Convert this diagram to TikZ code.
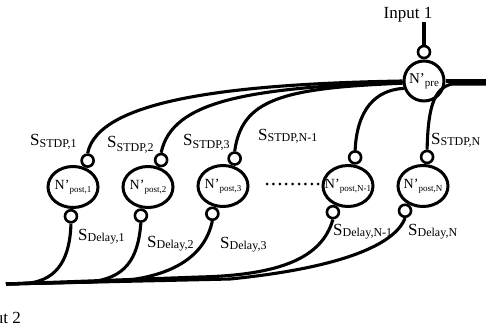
\documentclass[tikz,border=0pt]{standalone}
\usepackage{fontspec}
\setmainfont{Liberation Serif}
\usetikzlibrary{shapes.geometric}

% synapse label: S with a lowered subscript
\newcommand\synlbl[2][1.5pt]{S\raisebox{-#1}{\fontsize{12}{12}\selectfont #2}}
% neuron label: N' with a lowered subscript, zero width so the shape keeps its size
\newcommand\nrnlbl[2]{\makebox[0pt][c]{N’\raisebox{-3pt}{\fontsize{#1}{#1}\selectfont #2}}}

\begin{document}
\begin{tikzpicture}[x=1pt, y=-1pt,
  neuron/.style={draw, ellipse, line width=3pt, minimum width=50pt, minimum height=41pt,
                 inner sep=0pt, fill=white, font=\fontsize{14}{14}\selectfont},
  prenrn/.style={draw, circle, line width=3pt, minimum size=40pt, inner sep=0pt,
                 fill=white, font=\fontsize{15}{15}\selectfont},
  syn/.style={draw, circle, line width=2.6pt, minimum size=12pt, inner sep=0pt, fill=white},
  wire/.style={line width=3.1pt},
  lbl/.style={inner sep=0pt, anchor=base west, font=\fontsize{17}{17}\selectfont},
  dots/.style={line width=3pt, line cap=round, dash pattern=on 0pt off 6.4pt}]

\useasboundingbox (0,0) rectangle (486,331);
\clip (0,0) rectangle (486,331);
\fill[white] (0,0) rectangle (486,331);

% presynaptic neuron and its input synapse
\node[prenrn] (Npre) at (424,81) {\nrnlbl{11}{pre}};
\node[syn] (IN) at (424,52) {};
\node[lbl, anchor=base] (in1) at (408,19) {Input 1};
\coordinate (inTop) at (424,22);
\draw[line width=3.6pt] (inTop) -- (IN.north);

% postsynaptic neurons
\node[neuron] (P1)  at (73,187)  {\nrnlbl{9}{post,1}};
\node[neuron] (P2)  at (148,187) {\nrnlbl{9}{post,2}};
\node[neuron] (P3)  at (223,186) {\nrnlbl{9}{post,3}};
\node[neuron] (PNm) at (348,186) {\nrnlbl{9}{post,N-1}};
\node[neuron] (PN)  at (423,186) {\nrnlbl{9}{post,N}};

% STDP synapses (top) and delay synapses (bottom)
\node[syn, anchor=241] (T1)  at (P1.61)  {};
\node[syn, anchor=244] (T2)  at (P2.64)  {};
\node[syn, anchor=247] (T3)  at (P3.67)  {};
\node[syn, anchor=256] (TNm) at (PNm.76) {};
\node[syn, anchor=262] (TN)  at (PN.82)  {};
\node[syn, anchor=86]  (B1)  at (P1.266) {};
\node[syn, anchor=76]  (B2)  at (P2.256) {};
\node[syn, anchor=69]  (B3)  at (P3.249) {};
\node[syn, anchor=60]  (BNm) at (PNm.240) {};
\node[syn, anchor=54]  (BN)  at (PN.234) {};

% wires from the presynaptic neuron to the STDP synapses
\coordinate (ER)  at (490,81);
\coordinate (ER2) at (490,84);
\draw[wire] (T1.north)  .. controls (98,100) and (230,84) .. (Npre.180);
\draw[wire] (T2.north)  .. controls (172,100) and (250,88) .. (Npre.183);
\draw[wire] (T3.north)  .. controls (242,100) and (280,88) .. (Npre.186);
\draw[wire] (TNm.north) .. controls (357,110) and (375,90) .. (Npre.200);
\draw[wire] (TN.north)  .. controls (428,110) and (433,88) .. (452,84) -- (ER2);
\draw[wire] (Npre.east) -- (ER);

% wires from the delay synapses into the second input
\coordinate (BL) at (6,284);
\draw[wire] (B1.south)  .. controls (70,258) and (58,279) .. (30,283) -- (BL);
\draw[wire] (B2.south)  .. controls (138,260) and (125,278) .. (90,282) -- (BL);
\draw[wire] (B3.south)  .. controls (205,255) and (175,276) .. (120,281) -- (BL);
\draw[wire] (BNm.south) .. controls (322,258) and (280,275) .. (200,277) -- (BL);
\draw[wire] (BN.south)  .. controls (395,245) and (340,268) .. (230,279) -- (BL);
\node[lbl, anchor=base east] (in2) at (21,323) {Input 2};

% ellipsis between the third and the (N-1)th neuron
\coordinate (D1) at (267,184);
\coordinate (D2) at (319,184);
\draw[dots] (D1) -- (D2);

% synapse labels
\node[lbl] (s1) at (30,146)  {\synlbl{STDP,1}};
\node[lbl] (s2) at (107,147) {\synlbl[4pt]{STDP,2}};
\node[lbl] (s3) at (183,146) {\synlbl[3pt]{STDP,3}};
\node[lbl] (s4) at (258,140) {\synlbl{STDP,N-1}};
\node[lbl] (s5) at (431,144) {\synlbl{STDP,N}};
\node[lbl] (d1) at (78,240)  {\synlbl{Delay,1}};
\node[lbl] (d2) at (147,247) {\synlbl{Delay,2}};
\node[lbl] (d3) at (220,248) {\synlbl{Delay,3}};
\node[lbl] (d4) at (333,235) {\synlbl{Delay,N-1}};
\node[lbl] (d5) at (408,235) {\synlbl{Delay,N}};
\end{tikzpicture}
\end{document}
